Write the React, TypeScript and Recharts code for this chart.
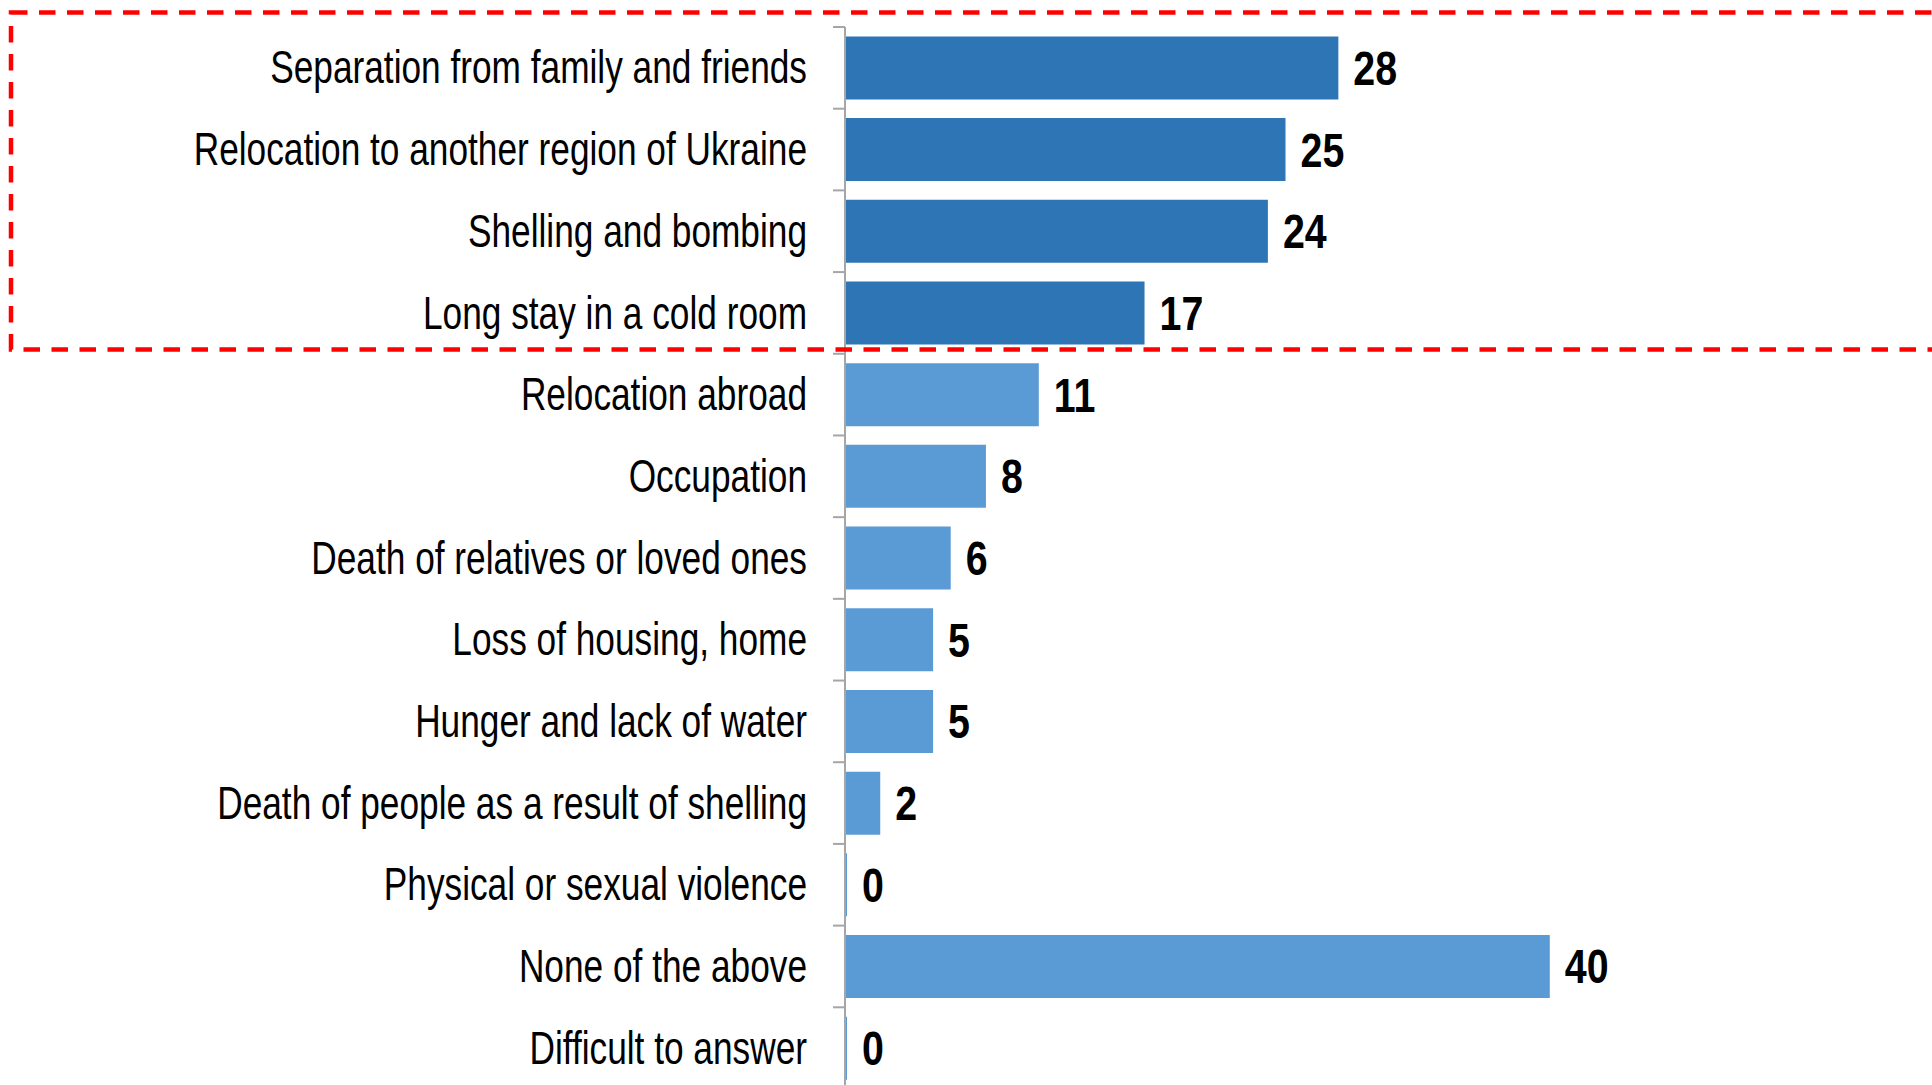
import { BarChart, Bar, XAxis, YAxis, Cell, LabelList } from 'recharts';

const categories = [
  'Separation from family and friends',
  'Relocation to another region of Ukraine',
  'Shelling and bombing',
  'Long stay in a cold room',
  'Relocation abroad',
  'Occupation',
  'Death of relatives or loved ones',
  'Loss of housing, home',
  'Hunger and lack of water',
  'Death of people as a result of shelling',
  'Physical or sexual violence',
  'None of the above',
  'Difficult to answer',
];
const values = [28, 25, 24, 17, 11, 8, 6, 5, 5, 2, 0, 40, 0];
// first rows are the ones inside the red dashed frame
const highlighted = [true, true, true, true, false, false, false, false, false, false, false, false, false];

const DARK = '#2E75B6';
const LIGHT = '#5B9BD5';
// no narrow font installed, so Liberation Sans is squeezed horizontally
const FONT = '"Liberation Sans", Arial, sans-serif';

const data = categories.map((name, i) => ({ name, value: values[i] }));

function CategoryTick(props: any) {
  const { x, y, payload, index, visibleTicksCount } = props;
  const half = payload.offset ?? 0;
  const axisX = x + 38;
  const isLast = index === visibleTicksCount - 1;
  return (
    <g>
      <line x1={axisX - 12} x2={axisX} y1={y - half} y2={y - half} stroke="#a6a6a6" strokeWidth={2} />
      {isLast && (
        <line x1={axisX - 12} x2={axisX} y1={y + half} y2={y + half} stroke="#a6a6a6" strokeWidth={2} />
      )}
      <text
        transform={`translate(${x},${y}) scale(0.775,1)`}
        textAnchor="end"
        dominantBaseline="central"
        fill="#000"
        fontSize={45.5}
        fontFamily={FONT}
      >
        {payload.value}
      </text>
    </g>
  );
}

function ValueLabel(props: any) {
  const { x, y, width, height, value } = props;
  const tx = x + width + 15;
  const ty = y + height / 2;
  return (
    <text
      transform={`translate(${tx},${ty}) scale(0.82,1)`}
      textAnchor="start"
      dominantBaseline="central"
      fill="#000"
      fontSize={48}
      fontWeight="bold"
      fontFamily={FONT}
    >
      {value}
    </text>
  );
}

export default function App() {
  return (
    <div style={{ position: 'absolute', left: 0, top: 0, width: 1932, height: 1085, overflow: 'hidden', background: '#fff' }}>
      <BarChart
        width={1932}
        height={1100}
        data={data}
        layout="vertical"
        margin={{ top: 27, right: 206, bottom: 11, left: 0 }}
        barCategoryGap="11.5%"
      >
        <XAxis type="number" domain={[0, 50]} hide />
        <YAxis
          type="category"
          dataKey="name"
          width={845}
          interval={0}
          tickLine={false}
          tickSize={12}
          tickMargin={26}
          axisLine={{ stroke: '#a6a6a6', strokeWidth: 2 }}
          tick={<CategoryTick />}
        />
        <Bar dataKey="value" isAnimationActive={false} minPointSize={2}>
          {data.map((d, i) => (
            <Cell key={d.name} fill={highlighted[i] ? DARK : LIGHT} />
          ))}
          <LabelList dataKey="value" content={<ValueLabel />} />
        </Bar>
      </BarChart>
      <svg width={1932} height={1085} style={{ position: 'absolute', left: 0, top: 0, pointerEvents: 'none' }}>
        <rect x={11} y={12.5} width={1960} height={337} fill="none" stroke="#ff0000" strokeWidth={4.5} strokeDasharray="16.5 11.5" />
      </svg>
    </div>
  );
}
